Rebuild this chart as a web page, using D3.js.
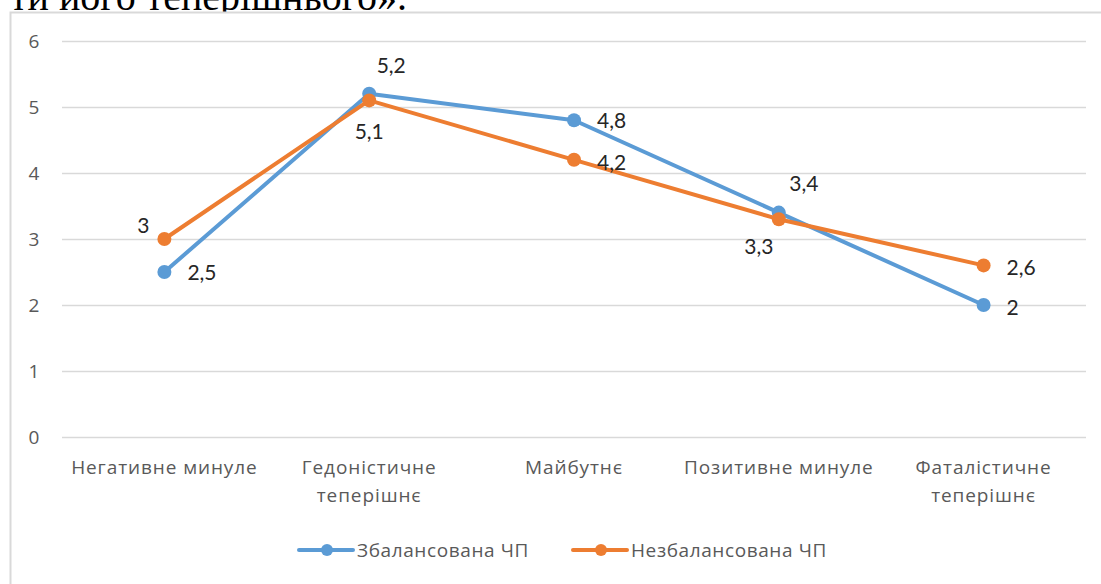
<!DOCTYPE html>
<html lang="uk">
<head>
  <meta charset="UTF-8">
  <title>Часова перспектива</title>
  <script src="https://cdn.jsdelivr.net/npm/d3@7"></script>
  <style>
    body { margin: 0; background: #fff; }
    svg { display: block; }
    .chart-text { font-family: "Open Sans", Lato, sans-serif; }
    .lbl { font-family: Lato, sans-serif; }
  </style>
</head>
<body>
  <div id="chart"></div>
  <script>
    // data
    const categories = [
      ['Негативне минуле'],
      ['Гедоністичне', 'теперішнє'],
      ['Майбутнє'],
      ['Позитивне минуле'],
      ['Фаталістичне', 'теперішнє']
    ]
    const seriesNames = ['Збалансована ЧП', 'Незбалансована ЧП']
    const balanced = [2.5, 5.2, 4.8, 3.4, 2]
    const unbalanced = [3, 5.1, 4.2, 3.3, 2.6]
    const yTicks = [0, 1, 2, 3, 4, 5, 6]

    // label placement offsets (px) relative to each point
    const balancedLabelPos = [[23, 1], [22, -28], [23, 0], [25, -29], [23, 3]]
    const unbalancedLabelPos = [[-21, -13], [0, 31], [23, 3], [-20, 27], [23, 2]]

    const colors = ['#5B9BD5', '#ED7D31']
    const width = 1101
    const height = 584

    const svg = d3.select('#chart')
      .append('svg')
      .attr('width', width)
      .attr('height', height)

    // tail of the document text above the chart
    svg.append('text')
      .attr('x', 10)
      .attr('y', 10)
      .style('font-family', '"Liberation Serif", serif')
      .style('font-size', '40px')
      .attr('fill', '#000')
      .text('ти його теперішнього».')

    // chart frame
    svg.append('rect')
      .attr('x', 10.5)
      .attr('y', 12.5)
      .attr('width', 1100)
      .attr('height', 600)
      .attr('fill', '#fff')
      .attr('stroke', '#d9d9d9')
      .attr('stroke-width', 2)

    const xScale = d3.scalePoint()
      .domain(d3.range(categories.length))
      .range([62, 1086])
      .padding(0.5)

    const yScale = d3.scaleLinear()
      .domain([0, 6])
      .range([437, 41])

    // gridlines
    svg.append('g')
      .selectAll('line')
      .data(yTicks)
      .enter()
      .append('line')
      .attr('x1', 62)
      .attr('x2', 1086)
      .attr('y1', d => yScale(d) + 0.5)
      .attr('y2', d => yScale(d) + 0.5)
      .attr('stroke', '#d9d9d9')
      .attr('stroke-width', 1.3)

    // y axis labels
    svg.append('g')
      .attr('class', 'chart-text')
      .selectAll('text')
      .data(yTicks)
      .enter()
      .append('text')
      .attr('x', 34)
      .attr('y', d => yScale(d))
      .attr('dy', '0.35em')
      .attr('text-anchor', 'middle')
      .style('font-size', '19px')
      .attr('fill', '#595959')
      .text(d => d)

    // x axis labels
    const xLabels = svg.append('g')
      .attr('class', 'chart-text')
      .selectAll('text')
      .data(categories)
      .enter()
      .append('text')
      .attr('x', (d, i) => xScale(i))
      .attr('y', 474)
      .attr('text-anchor', 'middle')
      .style('font-size', '19px')
      .style('letter-spacing', '0.9px')
      .attr('fill', '#595959')

    xLabels.selectAll('tspan')
      .data(d => d)
      .enter()
      .append('tspan')
      .attr('x', function () { return this.parentNode.getAttribute('x') })
      .attr('dy', (d, i) => i === 0 ? 0 : 28)
      .text(d => d)

    const line = d3.line()
      .x((d, i) => xScale(i))
      .y(d => yScale(d))

    const series = [balanced, unbalanced]
    const labelPos = [balancedLabelPos, unbalancedLabelPos]

    series.forEach((values, s) => {
      const g = svg.append('g')

      g.append('path')
        .datum(values)
        .attr('d', line)
        .attr('fill', 'none')
        .attr('stroke', colors[s])
        .attr('stroke-width', 4)
        .attr('stroke-linejoin', 'round')
        .attr('stroke-linecap', 'round')

      g.selectAll('circle')
        .data(values)
        .enter()
        .append('circle')
        .attr('cx', (d, i) => xScale(i))
        .attr('cy', d => yScale(d))
        .attr('r', 7)
        .attr('fill', colors[s])
    })

    // data labels drawn on top
    series.forEach((values, s) => {
      svg.append('g')
        .attr('class', 'lbl')
        .selectAll('text')
        .data(values)
        .enter()
        .append('text')
        .attr('x', (d, i) => xScale(i) + labelPos[s][i][0])
        .attr('y', (d, i) => yScale(d) + labelPos[s][i][1])
        .attr('dy', '0.35em')
        .attr('text-anchor', (d, i) => labelPos[s][i][0] > 0 && Math.abs(labelPos[s][i][1]) < 10 ? 'start' : 'middle')
        .style('font-size', '21px')
        .attr('fill', '#262626')
        .text(d => String(d).replace('.', ','))
    })

    // legend
    const legendX = [299, 573]
    const legend = svg.append('g')
      .attr('class', 'chart-text')
      .selectAll('g')
      .data(seriesNames)
      .enter()
      .append('g')
      .attr('transform', (d, i) => `translate(${legendX[i]}, 550)`)

    legend.append('line')
      .attr('x1', 0)
      .attr('x2', 54)
      .attr('stroke', (d, i) => colors[i])
      .attr('stroke-width', 4)
      .attr('stroke-linecap', 'round')

    legend.append('circle')
      .attr('cx', 28)
      .attr('r', 6)
      .attr('fill', (d, i) => colors[i])

    legend.append('text')
      .attr('x', 58)
      .attr('dy', '0.35em')
      .style('font-size', '19px')
      .style('letter-spacing', '0.6px')
      .attr('fill', '#595959')
      .text(d => d)
  </script>
</body>
</html>
